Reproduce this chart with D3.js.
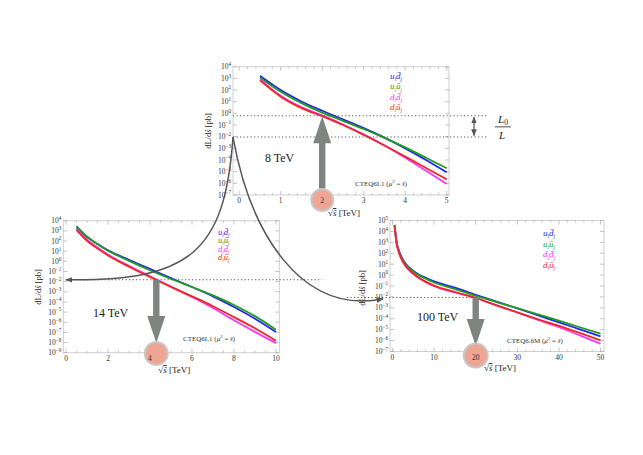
<!DOCTYPE html>
<html><head><meta charset="utf-8">
<script src="https://cdn.jsdelivr.net/npm/d3@7"></script>
<style>
body{margin:0;background:#fff}
svg{display:block}
text{font-family:"Liberation Serif","DejaVu Serif",serif}
</style>
</head><body>
<svg id="c" width="643" height="455"></svg>
<script>
// ---------------- data ----------------
const channels = [["u","d"],["u","u"],["d","d"],["d","u"]]; // a_i b̄_j
const channelColors = ["#2626f0","#1e9e1e","#f03cf0","#f02626"];

const sqrtS8 = [0.5,1,1.5,2,2.5,3,3.5,4,4.5,5];
const lum8_udbar = [1.70e3,1.0e2,10.5,1.66,0.302,5.37e-2,8.32e-3,1.0e-3,1.0e-4,8.71e-6];
const lum8_uubar = [1.15e3,72.4,7.59,1.15,0.229,4.57e-2,7.94e-3,1.20e-3,1.58e-4,1.95e-5];
const lum8_ddbar = [813,32.4,3.39,0.661,0.112,1.58e-2,1.78e-3,1.58e-4,1.20e-5,8.71e-7];
const lum8_dubar = [676,26.9,2.82,0.562,0.1,1.41e-2,1.78e-3,2.0e-4,2.09e-5,2.19e-6];

const sqrtS14 = [0.5,1,1.5,2,3,4,5,6,7,8,9,10];
const lum14_udbar = [2.19e3,251,50.1,12.0,1.41,0.178,2.24e-2,2.95e-3,3.55e-4,3.16e-5,2.24e-6,1.10e-7];
const lum14_uubar = [2.95e3,275,47.9,11.0,1.12,0.132,1.82e-2,2.95e-3,4.37e-4,5.01e-5,3.98e-6,1.86e-7];
const lum14_ddbar = [1.48e3,138,22.4,4.57,0.355,3.31e-2,3.16e-3,3.02e-4,2.51e-5,1.58e-6,1.12e-7,8.71e-9];
const lum14_dubar = [1.17e3,105,17.8,3.80,0.295,2.82e-2,3.02e-3,3.55e-4,3.80e-5,3.16e-6,2.51e-7,1.48e-8];

const sqrtS100 = [0.5,0.75,1,1.5,2,3,4,6,8,10,15,20,25,30,35,40,45,50];
const lum100_udbar = [3.98e4,5.62e3,1.0e3,200,63.1,13.2,5.01,1.32,0.562,0.263,7.08e-2,1.58e-2,3.72e-3,8.91e-4,2.04e-4,4.68e-5,1.07e-5,2.45e-6];
const lum100_uubar = [3.72e4,5.01e3,891,178,55.0,11.5,4.37,1.12,0.468,0.209,5.25e-2,1.26e-2,3.39e-3,9.55e-4,2.51e-4,6.61e-5,1.66e-5,4.27e-6];
const lum100_ddbar = [3.16e4,4.17e3,741,135,39.8,7.94,2.82,0.631,0.224,9.55e-2,2.63e-2,8.32e-3,1.74e-3,3.72e-4,7.94e-5,1.66e-5,3.02e-6,5.13e-7];
const lum100_dubar = [3.16e4,4.17e3,759,141,41.7,8.51,3.02,0.708,0.251,0.107,2.82e-2,7.94e-3,1.66e-3,3.80e-4,8.91e-5,2.24e-5,5.01e-6,1.05e-6];

// reference luminosity levels (dotted lines) and marked sqrt(s) values
const levels8 = [0.63, 9.3e-3];
const level14 = 1.55e-2;
const level100 = 8.9e-3;
const mark8 = 2, mark14 = 4.3, mark100 = 20;

// tick labels
const xTicks8 = [0,1,2,3,4,5];
const xTicks14 = [0,2,4,6,8,10];
const xTicks100 = [0,10,20,30,40,50];
const yExp8 = [4,3,2,1,0,-1,-2,-3,-4,-5,-6,-7];
const yExp14 = [4,3,2,1,0,-1,-2,-3,-4,-5,-6,-7,-8,-9];
const yExp100 = [5,4,3,2,1,0,-1,-2,-3,-4,-5,-6,-7];

// ---------------- drawing ----------------
const svg = d3.select("#c");
const defs = svg.append("defs");
defs.append("marker").attr("id","ah").attr("viewBox","0 0 10 10").attr("refX",9).attr("refY",5)
  .attr("markerWidth",7).attr("markerHeight",7).attr("markerUnits","userSpaceOnUse").attr("orient","auto-start-reverse")
  .append("path").attr("d","M0,1 L10,5 L0,9 z").attr("fill","#555");

const panels = [
 {id:"p8", box:[233,66.7,449,195], xDom:[-0.15,5.055], yDom:[1e-7,1e4], xTicks:xTicks8, minor:0.2,
  yExps:yExp8, s:sqrtS8, series:[lum8_udbar,lum8_uubar,lum8_ddbar,lum8_dubar],
  energy:"8 TeV", energyPos:[265,162], pdf:"CTEQ6L1", pdfPos:[355,186],
  legendPos:[390,79], legendStep:10.4, legendFs:9, ytitle:[211,131], xtitleY:216},
 {id:"p14", box:[63.3,220.7,279.3,352.7], xDom:[-0.13,10.16], yDom:[1e-9,1e4], xTicks:xTicks14, minor:0.5,
  yExps:yExp14, s:sqrtS14, series:[lum14_udbar,lum14_uubar,lum14_ddbar,lum14_dubar],
  energy:"14 TeV", energyPos:[93,317], pdf:"CTEQ6L1", pdfPos:[183,341],
  legendPos:[218,234.5], legendStep:8.6, legendFs:8.5, ytitle:[41,287], xtitleY:373},
 {id:"p100", box:[390,220.5,604,351.5], xDom:[-0.6,50.84], yDom:[1e-7,1e5], xTicks:xTicks100, minor:2,
  yExps:yExp100, s:sqrtS100, series:[lum100_udbar,lum100_uubar,lum100_ddbar,lum100_dubar],
  energy:"100 TeV", energyPos:[417,321], pdf:"CTEQ6.6M", pdfPos:[507,343],
  legendPos:[543,236], legendStep:10.7, legendFs:9, ytitle:[365,288], xtitleY:371}
];

panels.forEach(p=>{
  const [x0,y0,x1,y1] = p.box;
  p.x = d3.scaleLinear().domain(p.xDom).range([x0,x1]);
  p.y = d3.scaleLog().domain(p.yDom).range([y1,y0]);
  const g = svg.append("g");
  defs.append("clipPath").attr("id","clip"+p.id).append("rect")
    .attr("x",x0).attr("y",y0).attr("width",x1-x0).attr("height",y1-y0);
  // frame
  g.append("rect").attr("x",x0).attr("y",y0).attr("width",x1-x0).attr("height",y1-y0)
    .attr("fill","none").attr("stroke","#cfcfcf").attr("stroke-width",1);
  // x ticks (major + minor, bottom and top)
  const step = p.xTicks[1]-p.xTicks[0];
  const minors = d3.range(p.xTicks[0], p.xTicks[p.xTicks.length-1]+1e-9, p.minor);
  minors.forEach(v=>{
    const major = Math.abs(v/step - Math.round(v/step))<1e-6;
    const L = major?4:2;
    const xx = p.x(v);
    g.append("line").attr("x1",xx).attr("x2",xx).attr("y1",y1).attr("y2",y1-L).attr("stroke","#aaa").attr("stroke-width",0.7);
    g.append("line").attr("x1",xx).attr("x2",xx).attr("y1",y0).attr("y2",y0+L).attr("stroke","#aaa").attr("stroke-width",0.7);
  });
  // y ticks (decades left and right)
  p.yExps.forEach(e=>{
    const yy = p.y(Math.pow(10,e));
    g.append("line").attr("x1",x0).attr("x2",x0+4).attr("y1",yy).attr("y2",yy).attr("stroke","#aaa").attr("stroke-width",0.7);
    g.append("line").attr("x1",x1).attr("x2",x1-4).attr("y1",yy).attr("y2",yy).attr("stroke","#aaa").attr("stroke-width",0.7);
  });
  // curves
  const line = d3.line().x(d=>p.x(d[0])).y(d=>p.y(d[1])).curve(d3.curveMonotoneX);
  const cg = g.append("g").attr("clip-path","url(#clip"+p.id+")");
  p.series.forEach((vals,i)=>{
    cg.append("path").datum(p.s.map((s,k)=>[s,vals[k]])).attr("d",line)
      .attr("fill","none").attr("stroke",channelColors[i]).attr("stroke-width",1.8);
  });
  // legend
  channels.forEach((c,i)=>{
    const fs = p.legendFs;
    const t = g.append("text").attr("x",p.legendPos[0]).attr("y",p.legendPos[1]+i*p.legendStep)
      .attr("fill",channelColors[i]).attr("font-size",fs).attr("font-style","italic");
    t.append("tspan").text(c[0]);
    t.append("tspan").attr("font-size",fs*0.62).attr("dy",fs*0.25).text("i");
    t.append("tspan").attr("dy",-fs*0.25).text(c[1]+"\u0304");
    t.append("tspan").attr("font-size",fs*0.62).attr("dy",fs*0.25).text("j");
  });
  // energy label
  g.append("text").attr("x",p.energyPos[0]).attr("y",p.energyPos[1]).attr("font-size",12).attr("fill","#222").text(p.energy);
  // pdf label
  const pt = g.append("text").attr("x",p.pdfPos[0]).attr("y",p.pdfPos[1]).attr("font-size",7).attr("fill","#333");
  pt.append("tspan").text(p.pdf+" (");
  pt.append("tspan").attr("font-style","italic").text("\u03bc");
  pt.append("tspan").attr("font-size",5).attr("dy",-3).text("2");
  pt.append("tspan").attr("dy",3).text(" = ");
  pt.append("tspan").attr("font-style","italic").text("s\u0302");
  pt.append("tspan").text(")");
});

// dotted reference lines
function dotted(x1,x2,y){
  svg.append("line").attr("x1",x1).attr("x2",x2).attr("y1",y).attr("y2",y)
    .attr("stroke","#555").attr("stroke-width",1.1).attr("stroke-dasharray","1.2,2.3");
}
const P8=panels[0], P14=panels[1], P100=panels[2];
levels8.forEach(v=>dotted(P8.box[0], 487, P8.y(v)));
dotted(P14.x(0), 322, P14.y(level14));
dotted(347, P100.x(mark100), P100.y(level100));

// big gray arrows + circles
const arrowCol = "#7e8480";
function bigArrow(cx, yFrom, yTip){
  const dir = yTip<yFrom ? -1 : 1;
  const hl = 27, hw = 9, sw = 3.2;
  const yh = yTip - dir*hl;
  const d = `M${cx-sw},${yFrom} L${cx-sw},${yh} L${cx-hw},${yh} L${cx},${yTip} L${cx+hw},${yh} L${cx+sw},${yh} L${cx+sw},${yFrom} Z`;
  svg.append("path").attr("d",d).attr("fill",arrowCol);
}
function circ(cx,cy,r){
  svg.append("circle").attr("cx",cx).attr("cy",cy).attr("r",r)
    .attr("fill","#efa593").attr("stroke","#c8c8c8").attr("stroke-width",2);
}
bigArrow(P8.x(mark8), 196, P8.y(levels8[0])+0.5);
circ(P8.x(mark8), 200, 11);
bigArrow(P14.x(mark14), P14.y(level14), 343);
circ(P14.x(mark14), 353.5, 11.5);
bigArrow(P100.x(mark100), P100.y(level100), 346);
circ(P100.x(mark100), 355.5, 12);

// tick labels & titles (on top of circles)
panels.forEach(p=>{
  const [x0,y0,x1,y1] = p.box;
  const g = svg.append("g");
  p.xTicks.forEach(v=>{
    g.append("text").attr("x",p.x(v)).attr("y",y1+8.2).attr("text-anchor","middle")
      .attr("font-size",7.5).attr("fill","#333").text(v);
  });
  p.yExps.forEach(e=>{
    const t = g.append("text").attr("x",x0-2).attr("y",p.y(Math.pow(10,e))+2.6).attr("text-anchor","end")
      .attr("font-size",7.5).attr("fill","#333");
    t.append("tspan").text("10");
    t.append("tspan").attr("font-size",5.2).attr("dy",-3.2).text(String(e).replace("-","\u2212"));
  });
  const xt = g.append("text").attr("x",(x0+x1)/2+3).attr("y",p.xtitleY).attr("text-anchor","middle")
    .attr("font-size",9).attr("fill","#222");
  xt.append("tspan").text("\u221a");
  xt.append("tspan").attr("font-style","italic").attr("text-decoration","overline").text("s\u0302");
  xt.append("tspan").text("  [TeV]");
  const yt = g.append("text").attr("transform",`translate(${p.ytitle[0]},${p.ytitle[1]}) rotate(-90)`)
    .attr("text-anchor","middle").attr("font-size",8.5).attr("fill","#222");
  yt.append("tspan").text("dL/d");
  yt.append("tspan").attr("font-style","italic").text("s\u0302");
  yt.append("tspan").text(" [pb]");
});

// connecting curved arrows
const apex = [P8.box[0], P8.y(levels8[1])];
const leftEnd = [P14.x(0), P14.y(level14)];
const rightEnd = [P100.box[0]-7, P100.y(level100)+1.5];
svg.append("path")
  .attr("d",`M${apex[0]},${apex[1]} C${apex[0]-8},${apex[1]+115} ${apex[0]-43},${leftEnd[1]+2} ${leftEnd[0]},${leftEnd[1]}`)
  .attr("fill","none").attr("stroke","#555").attr("stroke-width",1.5).attr("marker-end","url(#ah)");
svg.append("path")
  .attr("d",`M${apex[0]},${apex[1]} C${apex[0]+17},${apex[1]+95} ${apex[0]+67},${rightEnd[1]+16} ${rightEnd[0]},${rightEnd[1]}`)
  .attr("fill","none").attr("stroke","#555").attr("stroke-width",1.5).attr("marker-end","url(#ah)");

// L0/L double arrow and label
const yA = P8.y(levels8[0]), yB = P8.y(levels8[1]);
svg.append("line").attr("x1",474).attr("x2",474).attr("y1",yA+1.5).attr("y2",yB-1.5)
  .attr("stroke","#555").attr("stroke-width",1.2).attr("marker-start","url(#ah)").attr("marker-end","url(#ah)");
const fx = 503;
const t1 = svg.append("text").attr("x",fx).attr("y",yA+7).attr("text-anchor","middle").attr("font-size",11).attr("fill","#222");
t1.append("tspan").attr("font-style","italic").text("L");
t1.append("tspan").attr("font-size",7.5).attr("dy",2).text("0");
svg.append("line").attr("x1",fx-8).attr("x2",fx+8).attr("y1",(yA+yB)/2+0.5).attr("y2",(yA+yB)/2+0.5).attr("stroke","#222").attr("stroke-width",0.8);
svg.append("text").attr("x",fx-1).attr("y",yB+1.5).attr("text-anchor","middle").attr("font-size",11).attr("font-style","italic").attr("fill","#222").text("L");
</script>
</body></html>
